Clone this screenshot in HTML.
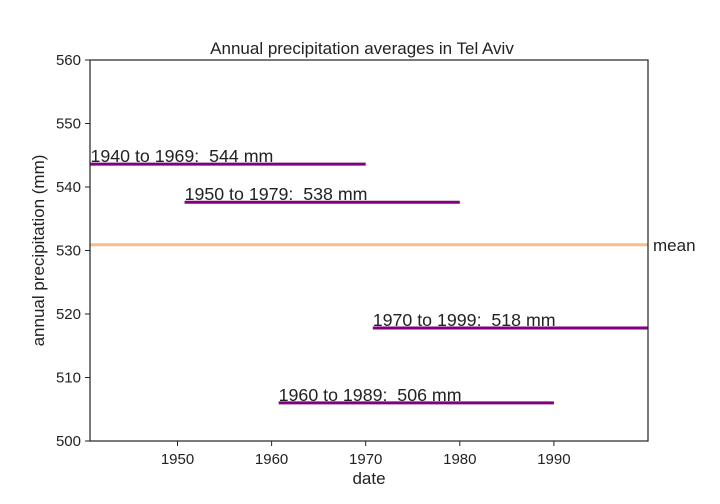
<!DOCTYPE html>
<html><head><meta charset="utf-8"><style>
body{margin:0;background:#fff}
svg{display:block;font-family:"Liberation Sans",sans-serif}
text{white-space:pre}
</style></head><body>
<svg id="c" width="720" height="504"></svg>
<script>
const startYears=[1940,1950,1960,1970];
const endYears=[1969,1979,1989,1999];
const averages=[543.6,537.6,506.0,517.8];
const labels=["1940 to 1969:  544 mm","1950 to 1979:  538 mm","1960 to 1989:  506 mm","1970 to 1999:  518 mm"];
const meanValue=530.9;
const xTicks=[1950,1960,1970,1980,1990];
const yTicks=[500,510,520,530,540,550,560];
const NS="http://www.w3.org/2000/svg";
const svg=document.getElementById('c');
const L=90,R=648,T=60,B=441,xmin=1940.7,xmax=2000,ymin=500,ymax=560;
const X=v=>L+(v-xmin)/(xmax-xmin)*(R-L);
const Y=v=>B-(v-ymin)/(ymax-ymin)*(B-T);
function el(t,a,txt){const e=document.createElementNS(NS,t);for(const k in a)e.setAttribute(k,a[k]);if(txt!=null)e.textContent=txt;svg.appendChild(e);return e;}
let e;
e=el('line',{x1:L,x2:R,y1:Y(meanValue),y2:Y(meanValue),stroke:'#f8bd88','stroke-width':3});


e=el('text',{x:R+5,y:Y(meanValue)+6,'font-size':17,fill:'#222'},'mean');


for(let i=0;i<startYears.length;i++){
 const x1=Math.max(L,X(startYears[i]+0.75)),x2=Math.min(R,X(endYears[i]+1)),y=Y(averages[i]);
 e=el('line',{x1:x1,x2:x2,y1:y,y2:y,stroke:'#800080','stroke-width':3});
 
 
 e=el('text',{x:x1,y:y-2,'font-size':17.8,fill:'#222'},labels[i]);
 
 
}
e=el('rect',{x:L,y:T,width:R-L,height:B-T,fill:'none',stroke:'#222','stroke-width':1.2});


xTicks.forEach(t=>{
 e=el('line',{x1:X(t),x2:X(t),y1:B,y2:B+5,stroke:'#222'});
 
 
 e=el('text',{x:X(t),y:B+23,'font-size':15,'text-anchor':'middle',fill:'#222'},t);
 
 
});
yTicks.forEach(t=>{
 e=el('line',{x1:L-5,x2:L,y1:Y(t),y2:Y(t),stroke:'#222'});
 
 
 e=el('text',{x:L-9,y:Y(t)+5,'font-size':15,'text-anchor':'end',fill:'#222'},t);
 
 
});
e=el('text',{x:362,y:54,'font-size':17,'text-anchor':'middle',fill:'#222'},'Annual precipitation averages in Tel Aviv');


e=el('text',{x:(L+R)/2,y:484,'font-size':17,'text-anchor':'middle',fill:'#222'},'date');


e=el('text',{x:0,y:0,'font-size':17,'text-anchor':'middle',fill:'#222',transform:'translate(44,'+((T+B)/2)+') rotate(-90)'},'annual precipitation (mm)');


</script>
</body></html>
